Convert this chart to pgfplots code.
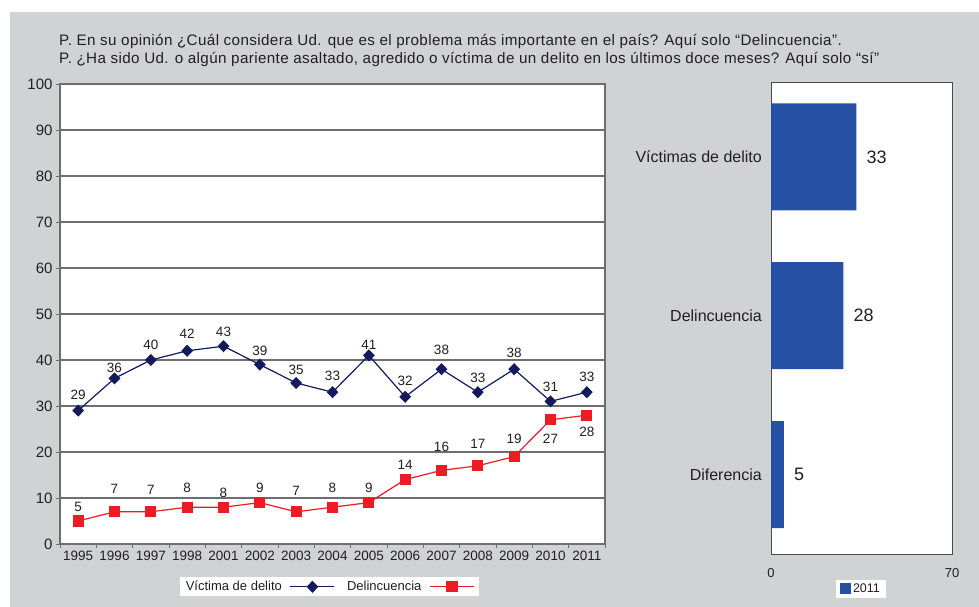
\documentclass[border=0pt]{standalone}
\usepackage{pgfplots}
\pgfplotsset{compat=1.18}
\usepackage{pgfplotstable}
\usepackage{fontspec}
\setmainfont{Liberation Sans}
\newfontfamily\titlefont[LetterSpace=2.5]{Liberation Sans}
\definecolor{bg}{HTML}{D1D2D4}
\definecolor{navy}{HTML}{141A5E}
\definecolor{redl}{HTML}{ED1C24}
\definecolor{barb}{HTML}{2550A4}
\definecolor{gridc}{HTML}{6D6E71}
\definecolor{txt}{HTML}{231F20}
\pgfplotsset{/pgf/number format/assume math mode=true}

\pgfplotstableread{
x y dy
0 29 16
1 36 11
2 40 15
3 42 17
4 43 14
5 39 14
6 35 13
7 33 16
8 41 11
9 32 16
10 38 19
11 33 14
12 38 16
13 31 15
14 33 15
}\navydata

\pgfplotstableread{
x y dy
0 5 14
1 7 23
2 7 22
3 8 19
4 8 14
5 9 15
6 7 21
7 8 19
8 9 15
9 14 15
10 16 24
11 17 22
12 19 18
13 27 -19
14 28 -17
}\reddata

\begin{document}
\begin{tikzpicture}
\fill[white] (0,0) rectangle (979bp,607bp);
\fill[bg] (10bp,0) rectangle (979bp,595bp);
\node[anchor=base west, inner sep=0pt, font=\titlefont\fontsize{15.2bp}{17bp}\selectfont, text=txt] at (59bp,561bp) {P. En su opinión ¿Cuál considera Ud. que es el problema más importante en el país? Aquí solo “Delincuencia”.};
\node[anchor=base west, inner sep=0pt, font=\titlefont\fontsize{15.2bp}{17bp}\selectfont, text=txt] at (59bp,543.5bp) {P. ¿Ha sido Ud. o algún pariente asaltado, agredido o víctima de un delito en los últimos doce meses? Aquí solo “sí”};

\begin{axis}[
  at={(60bp,63bp)}, anchor=south west,
  scale only axis, width=545bp, height=460bp,
  axis background/.style={fill=white},
  xmin=-0.5, xmax=14.5, ymin=0, ymax=100,
  xtick={0,...,14},
  xticklabels={1995,1996,1997,1998,2001,2002,2003,2004,2005,2006,2007,2008,2009,2010,2011},
  minor xtick={-0.5,0.5,...,14.5},
  ytick={0,10,...,100},
  tick align=outside,
  xtick pos=bottom, ytick pos=left,
  major tick length=4bp, minor tick length=4bp,
  major x tick style={draw=none},
  tick style={gridc, line width=0.8bp},
  ymajorgrids,
  major grid style={gridc, line width=1.2bp},
  axis line style={gridc, line width=1.2bp},
  xticklabel style={font=\fontsize{13.5bp}{15bp}\selectfont, text=txt},
  yticklabel style={font=\fontsize{15bp}{17bp}\selectfont, text=txt},
  legend plot pos=right,
  legend columns=2,
  legend style={at={(0.494,-0.093)}, anchor=center, draw=none, fill=white,
    font=\fontsize{13bp}{15bp}\selectfont, text=txt,
    /tikz/every odd column/.append style={column sep=6bp},
    /tikz/every even column/.append style={column sep=10bp},
    inner xsep=4bp, inner ysep=2bp},
  legend image code/.code={\draw[mark repeat=2,mark phase=2,#1] plot coordinates {(0bp,0bp) (22bp,0bp) (44bp,0bp)};},
]
\addplot[navy, line width=1.2bp, mark=diamond*, mark size=5.2bp, mark options={xscale=1.3},
  nodes near coords, point meta=explicit,
  visualization depends on={\thisrow{dy} \as \labdy},
  every node near coord/.append style={anchor=center, yshift=\labdy bp, text=txt, font=\fontsize{13.5bp}{15bp}\selectfont, inner sep=0pt}]
  table[x=x, y=y, meta=y] {\navydata};
\addlegendentry{Víctima de delito}
\addplot[redl, line width=1.2bp, mark=square*, mark size=5bp,
  nodes near coords, point meta=explicit,
  visualization depends on={\thisrow{dy} \as \labdy},
  every node near coord/.append style={anchor=center, yshift=\labdy bp, text=txt, font=\fontsize{13.5bp}{15bp}\selectfont, inner sep=0pt}]
  table[x=x, y=y, meta=y] {\reddata};
\addlegendentry{Delincuencia}
\end{axis}

\begin{axis}[
  at={(771bp,53bp)}, anchor=south west,
  scale only axis, width=181bp, height=471bp,
  axis background/.style={fill=white},
  xbar, bar width=107bp,
  xmin=0, xmax=70, ymin=-0.5, ymax=2.465,
  xtick={0,70}, ytick={0,1,2},
  yticklabels={Diferencia,Delincuencia,Víctimas de delito},
  major tick length=0pt,
  axis line style={black!70, line width=1bp},
  xticklabel style={font=\fontsize{13bp}{15bp}\selectfont, text=txt, yshift=-11bp},
  yticklabel style={font=\fontsize{16bp}{18bp}\selectfont, text=txt, inner sep=0pt, xshift=-9bp},
  nodes near coords,
  every node near coord/.append style={anchor=west, xshift=10bp, inner sep=0pt, text=txt, font=\fontsize{18bp}{20bp}\selectfont},
  legend style={at={(0.497,-0.074)}, anchor=center, draw=none, fill=white,
    font=\fontsize{12.5bp}{14bp}\selectfont, text=txt, inner xsep=4bp, inner ysep=2bp},
  legend image code/.code={\fill[#1] (0bp,-5.5bp) rectangle (11bp,5.5bp);},
]
\addplot[fill=barb, draw=none] coordinates {(5,0) (28,1) (33,2)};
\addlegendentry{2011}
\end{axis}
\end{tikzpicture}
\end{document}
